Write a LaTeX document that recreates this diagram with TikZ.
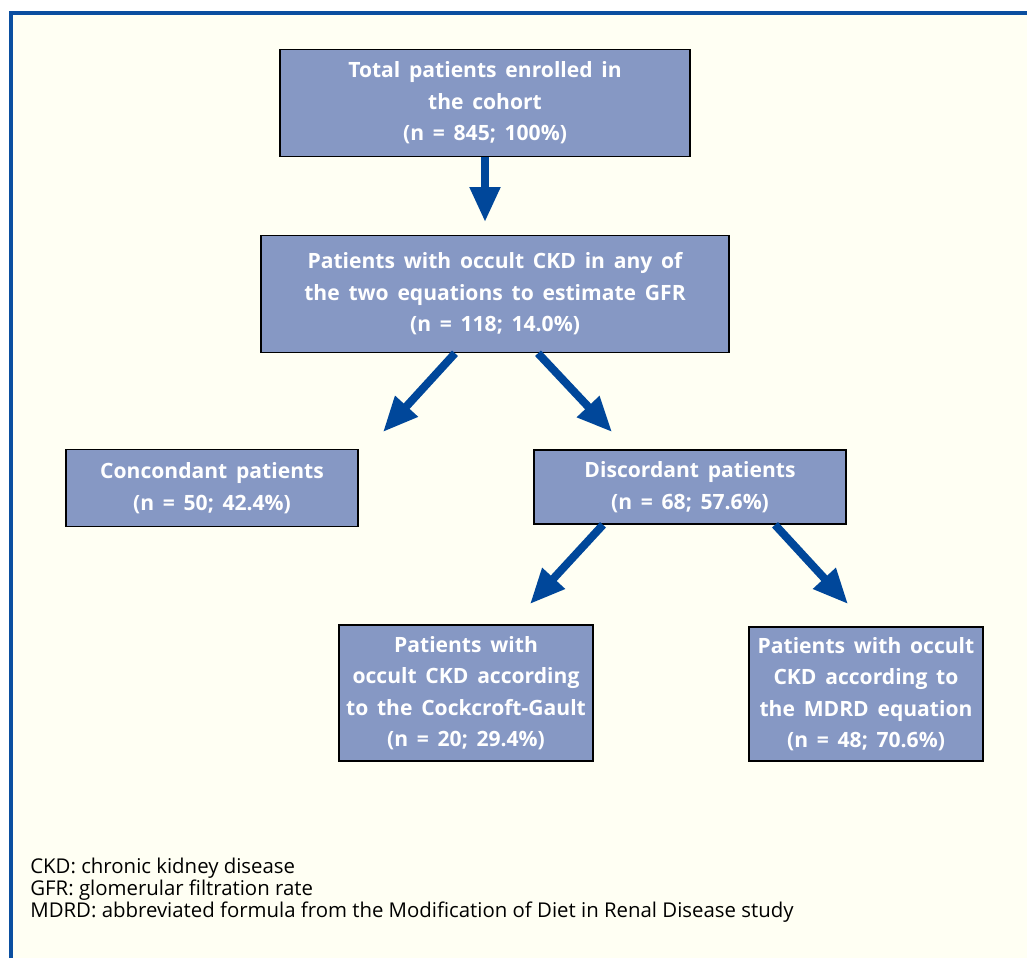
\documentclass[tikz,border=0pt]{standalone}
\usepackage{fontspec}
\setmainfont{Open Sans}
\newfontfamily\stagefont[WordSpace=1.6]{Open Sans}
\usepackage{tikz}
\usetikzlibrary{arrows.meta,calc}

\definecolor{paper}{HTML}{FFFFF3}
\definecolor{frameblue}{HTML}{0B4FA0}
\definecolor{boxblue}{HTML}{8698C4}
\definecolor{arrowblue}{HTML}{00479A}

\tikzset{
  stagebox/.style={draw=black, line width=0.9pt, fill=boxblue, text=white,
    font=\stagefont\fontsize{12}{17.9}\selectfont\bfseries,
    align=center, inner sep=0pt},
  flow/.style={draw=arrowblue, line width=0.16cm,
    -{Triangle[length=0.7cm, width=0.58cm]}}
}

\begin{document}
\begin{tikzpicture}[x=0.02cm, y=-0.02cm]

% Page and frame
\useasboundingbox (0,0) rectangle (1027,958);
\fill[paper] (11,13) rectangle (1027,958);
\draw[frameblue, line width=2.2pt] (11,958) -- (11,13) -- (1027,13);

% Boxes
\node[stagebox, minimum width=8.2cm, minimum height=2.14cm] (total) at (485,103)
  {Total patients enrolled in\\the cohort\\(n = 845; 100\%)};
\node[stagebox, minimum width=9.36cm, minimum height=2.34cm] (occult) at (495,294)
  {Patients with occult CKD in any of\\the two equations to estimate GFR\\(n = 118; 14.0\%)};
\node[stagebox, minimum width=5.84cm, minimum height=1.54cm] (concordant) at (212,488)
  {Concondant patients\\(n = 50; 42.4\%)};
\node[stagebox, minimum width=6.24cm, minimum height=1.48cm] (discordant) at (690,487)
  {Discordant patients\\(n = 68; 57.6\%)};
\node[stagebox, minimum width=5.08cm, minimum height=2.72cm] (cockcroft) at (466,693)
  {Patients with\\occult CKD according\\to the Cockcroft-Gault\\(n = 20; 29.4\%)};
\node[stagebox, minimum width=4.68cm, minimum height=2.68cm] (mdrd) at (866,694)
  {Patients with occult\\CKD according to\\the MDRD equation\\(n = 48; 70.6\%)};

% Arrow tips
\coordinate (t1) at (485,222);
\coordinate (t2) at (383,432);
\coordinate (t3) at (612,432);
\coordinate (t4) at (530,604);
\coordinate (t5) at (848,604);

% Arrows
\draw[flow] (total.south) -- (t1);
\draw[flow] ($(occult.south)+(-40,0)$) -- (t2);
\draw[flow] ($(occult.south)+(43,0)$) -- (t3);
\draw[flow] ($(discordant.south)+(-87,0)$) -- (t4);
\draw[flow] ($(discordant.south)+(85,0)$) -- (t5);

% Abbreviations
\node[anchor=north west, align=left, inner sep=0pt,
  font=\fontsize{11.6}{12.4}\selectfont] (notes) at (30,858)
  {CKD: chronic kidney disease\\GFR: glomerular filtration rate\\MDRD: abbreviated formula from the Modification of Diet in Renal Disease study};

\end{tikzpicture}
\end{document}
